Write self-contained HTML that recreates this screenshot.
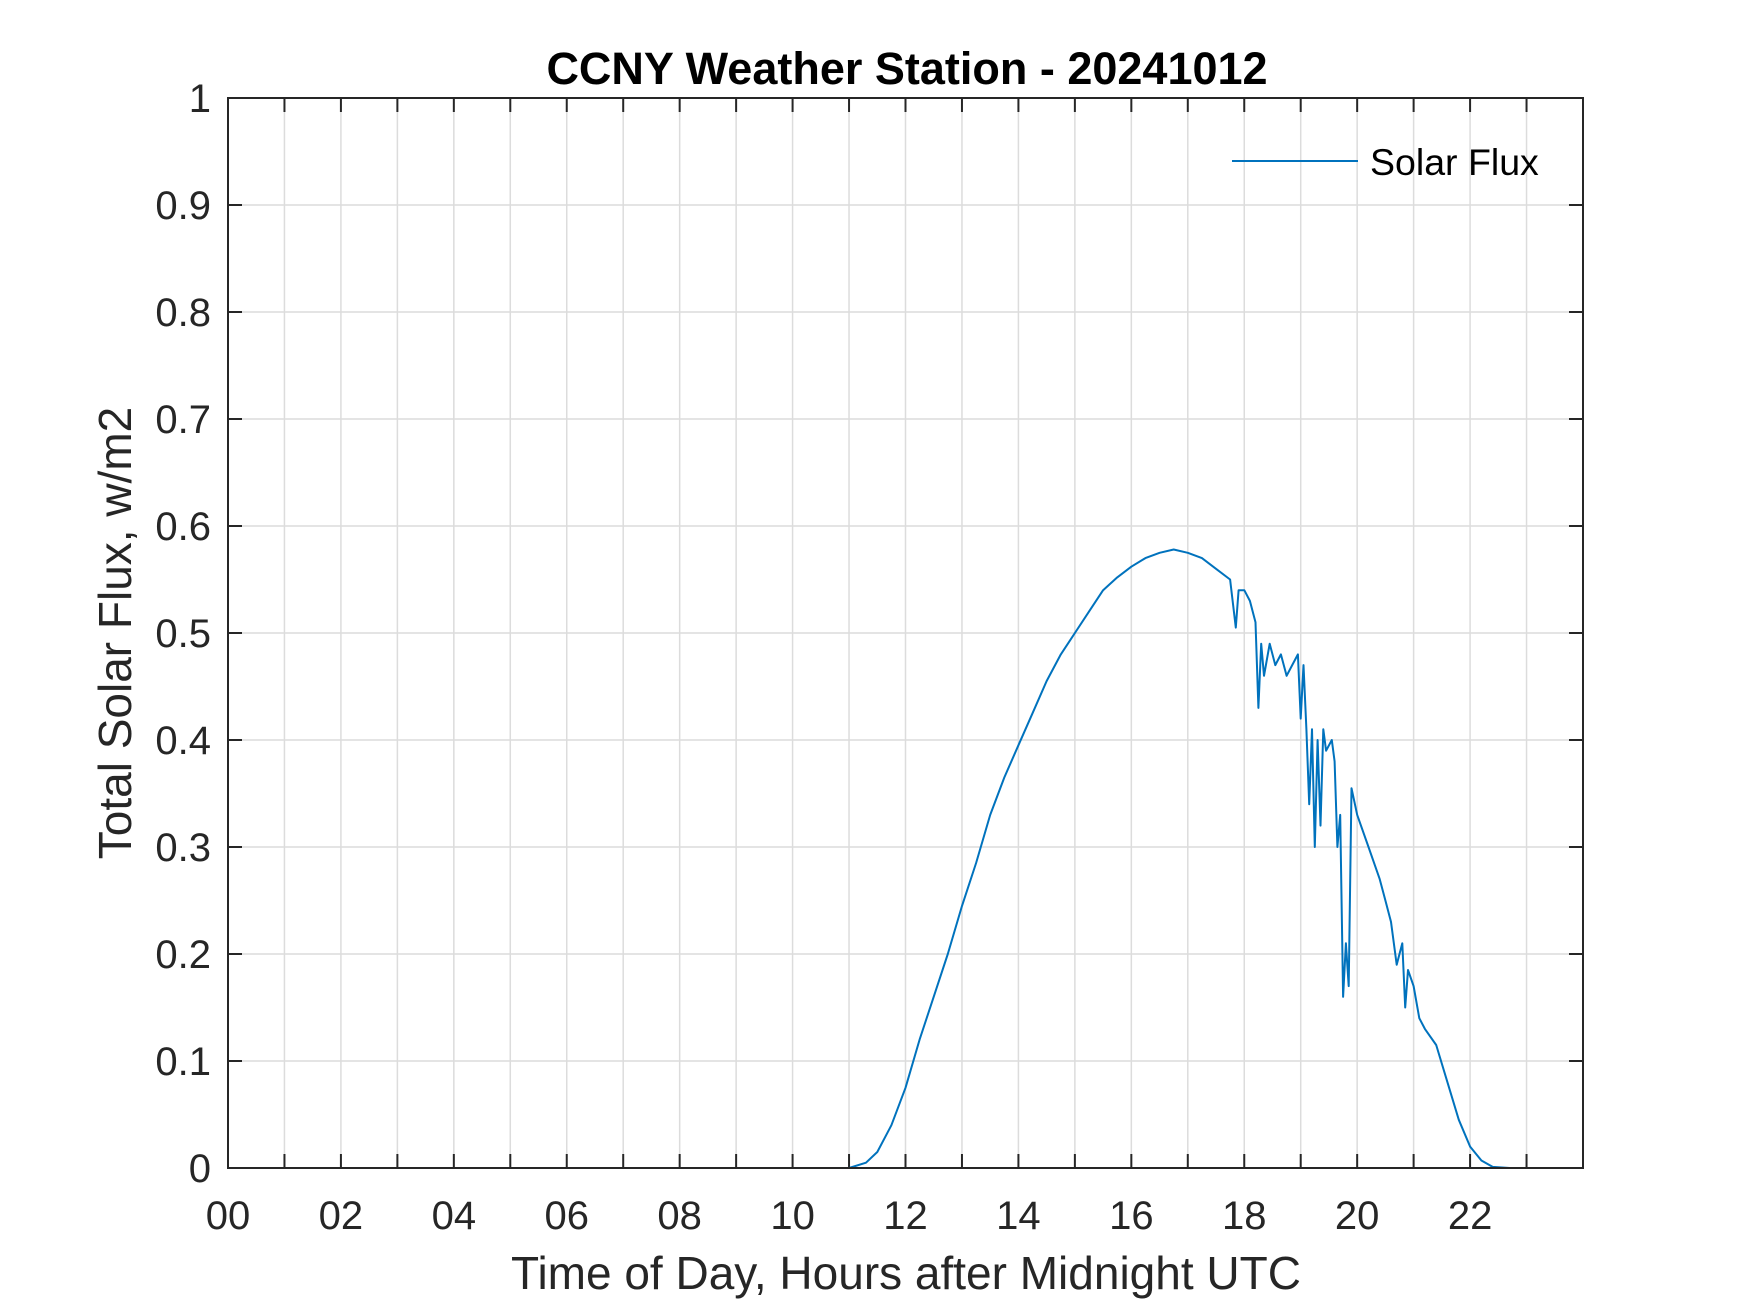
<!DOCTYPE html>
<html><head><meta charset="utf-8"><style>
html,body{margin:0;padding:0;background:#fff;}
svg{display:block;font-family:"Liberation Sans",Arial,sans-serif;}
</style></head><body>
<svg id="chart" width="1750" height="1313" viewBox="0 0 1750 1313">
<rect x="0" y="0" width="1750" height="1313" fill="#fff"/>
<g id="grid"></g>
<g id="ticks"></g>
<path id="series" fill="none" stroke="#0072BD" stroke-width="2" stroke-linejoin="round"/>
<rect x="228" y="98" width="1355" height="1070" fill="none" stroke="#262626" stroke-width="2"/>
<text x="907" y="84" text-anchor="middle" font-size="45" font-weight="bold" fill="#000">CCNY Weather Station - 20241012</text>
<text x="906" y="1289" text-anchor="middle" font-size="46" fill="#262626">Time of Day, Hours after Midnight UTC</text>
<text transform="translate(131,633) rotate(-90)" text-anchor="middle" font-size="46" fill="#262626">Total Solar Flux, w/m2</text>
<g>
<line x1="1232" y1="161" x2="1358" y2="161" stroke="#0072BD" stroke-width="2"/>
<text x="1370" y="175" font-size="37.5" fill="#000">Solar Flux</text>
</g>
</svg>
<script>
const hours=[0,11.0,11.3,11.5,11.75,12.0,12.25,12.5,12.75,13.0,13.25,13.5,13.75,14.0,14.25,14.5,14.75,15.0,15.25,15.5,15.75,16.0,16.25,16.5,16.75,17.0,17.25,17.5,17.75,17.85,17.9,18.0,18.1,18.2,18.25,18.3,18.35,18.45,18.55,18.65,18.75,18.85,18.95,19.0,19.05,19.1,19.15,19.2,19.25,19.3,19.35,19.4,19.45,19.55,19.6,19.65,19.7,19.75,19.8,19.85,19.9,20.0,20.2,20.4,20.5,20.6,20.7,20.8,20.85,20.9,21.0,21.1,21.2,21.4,21.6,21.8,22.0,22.2,22.4,22.7,24];
const flux=[0,0,0.005,0.015,0.04,0.075,0.12,0.16,0.2,0.245,0.285,0.33,0.365,0.395,0.425,0.455,0.48,0.5,0.52,0.54,0.552,0.562,0.57,0.575,0.578,0.575,0.57,0.56,0.55,0.505,0.54,0.54,0.53,0.51,0.43,0.49,0.46,0.49,0.47,0.48,0.46,0.47,0.48,0.42,0.47,0.41,0.34,0.41,0.30,0.40,0.32,0.41,0.39,0.40,0.38,0.30,0.33,0.16,0.21,0.17,0.355,0.33,0.30,0.27,0.25,0.23,0.19,0.21,0.15,0.185,0.17,0.14,0.13,0.115,0.08,0.045,0.02,0.007,0.001,0,0];
const xTickLabels=["00","02","04","06","08","10","12","14","16","18","20","22"];
const yTickLabels=["0","0.1","0.2","0.3","0.4","0.5","0.6","0.7","0.8","0.9","1"];
const L=228,R=1583,T=98,B=1168;
const sx=h=>L+(R-L)*h/24;
const sy=v=>B-(B-T)*v/1;
const NS="http://www.w3.org/2000/svg";
const grid=document.getElementById('grid'),ticks=document.getElementById('ticks'),svg=document.getElementById('chart');
function mk(tag,attrs,parent){const e=document.createElementNS(NS,tag);for(const k in attrs)e.setAttribute(k,attrs[k]);parent.appendChild(e);return e;}
for(let h=1;h<24;h++){
  const x=sx(h);
  const g=mk('line',{x1:x,y1:T,x2:x,y2:B,stroke:'#dcdcdc','stroke-width':1.5},grid);
  
  
  const t1=mk('line',{x1:x,y1:B,x2:x,y2:B-14,stroke:'#262626','stroke-width':2},ticks);
  
  
  const t2=mk('line',{x1:x,y1:T,x2:x,y2:T+14,stroke:'#262626','stroke-width':2},ticks);
  
  
}
xTickLabels.forEach((lab,i)=>{
  const t=mk('text',{x:sx(i*2),y:1229,'text-anchor':'middle','font-size':40,fill:'#262626'},svg);
  t.textContent=lab;
  
  
});
yTickLabels.forEach((lab,i)=>{
  const v=i/10,y=sy(v);
  if(i>0&&i<10){
    const g=mk('line',{x1:L,y1:y,x2:R,y2:y,stroke:'#dcdcdc','stroke-width':1.5},grid);
    
    
    const a=mk('line',{x1:L,y1:y,x2:L+14,y2:y,stroke:'#262626','stroke-width':2},ticks);
    
    
    const b=mk('line',{x1:R,y1:y,x2:R-14,y2:y,stroke:'#262626','stroke-width':2},ticks);
    
    
  }
  const t=mk('text',{x:211,y:y+14,'text-anchor':'end','font-size':40,fill:'#262626'},svg);
  t.textContent=lab;
  
  
});
document.getElementById('series').setAttribute('d',hours.map((h,i)=>(i?'L':'M')+sx(h).toFixed(1)+','+sy(flux[i]).toFixed(1)).join(''));
</script>
</body></html>
